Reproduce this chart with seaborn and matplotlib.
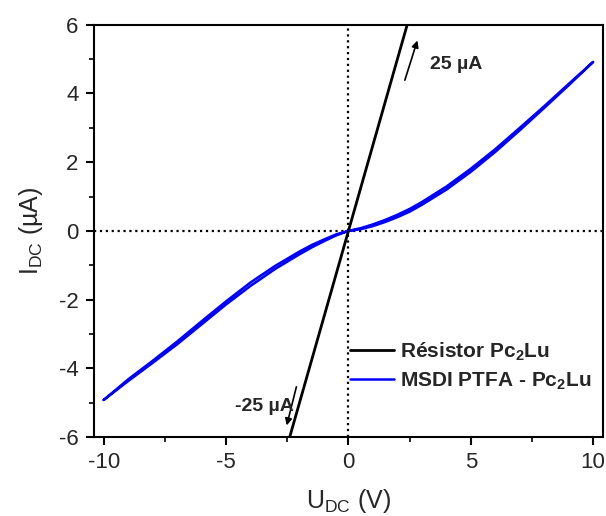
import numpy as np
import pandas as pd
import matplotlib
matplotlib.use('Agg')
import matplotlib.pyplot as plt
import seaborn as sns
from matplotlib.ticker import MultipleLocator

# ── DATA ─────────────────────────────────────────────
# Résistor: linear, 25 µA at 10 V
res_u = [-10, 10]
res_i = [-25, 25]

# MSDI PTFA - Pc2Lu, sweep up then back down
sweep_u = [-10, -9, -8, -7, -6, -5, -4, -3, -2, -1.5, -1, -0.5, 0,
           0.5, 1, 1.5, 2, 2.5, 3, 4, 5, 6, 7, 8, 9, 10]
up_i = [-4.92, -4.37, -3.84, -3.30, -2.72, -2.14, -1.60, -1.11, -0.68,
        -0.48, -0.30, -0.13, 0.00, 0.05, 0.14, 0.26, 0.40, 0.56, 0.76,
        1.20, 1.72, 2.30, 2.93, 3.58, 4.24, 4.92]
down_i = [-4.92, -4.32, -3.78, -3.22, -2.63, -2.05, -1.50, -1.02, -0.60,
          -0.41, -0.25, -0.10, 0.00, 0.08, 0.19, 0.32, 0.47, 0.64, 0.84,
          1.29, 1.81, 2.38, 3.00, 3.63, 4.28, 4.92]

sns.set_style("ticks")
plt.rcParams['font.family'] = ['Liberation Sans', 'DejaVu Sans']
plt.rcParams['mathtext.fontset'] = 'custom'
plt.rcParams['mathtext.rm'] = 'Liberation Sans'
plt.rcParams['mathtext.bf'] = 'Liberation Sans:bold'
plt.rcParams['axes.unicode_minus'] = False

fig = plt.figure(figsize=(6.06, 5.16), dpi=100)
ax = fig.add_axes([0.155, 0.153, 0.84, 0.799])

# zero lines
ax.axhline(0, color='black', ls=':', lw=1.6, zorder=1)
ax.axvline(0, color='black', ls=':', lw=1.6, zorder=1)

sns.lineplot(x=res_u, y=res_i, color='black', lw=2, ax=ax,
             label=r'Résistor Pc$_\mathbf{2}$Lu', zorder=3)

loop_u = sweep_u + sweep_u[::-1]
loop_i = up_i + down_i[::-1]
sns.lineplot(x=loop_u, y=loop_i, sort=False, estimator=None, color='#0000ff',
             lw=1.8, ax=ax, label=r'MSDI PTFA - Pc$_\mathbf{2}$Lu', zorder=2)

ax.set_xlim(-10.4, 10.4)
ax.set_ylim(-6, 6)
ax.xaxis.set_major_locator(MultipleLocator(5))
ax.xaxis.set_minor_locator(MultipleLocator(2.5))
ax.yaxis.set_major_locator(MultipleLocator(2))
ax.yaxis.set_minor_locator(MultipleLocator(1))
ax.tick_params(which='major', direction='out', length=6, width=1.5,
               labelsize=16, color='black', pad=5)
ax.tick_params(which='minor', direction='out', length=3.5, width=1.2,
               color='black')
for s in ax.spines.values():
    s.set_linewidth(1.5)
    s.set_color('black')

ax.set_xlabel(r'U$_{\mathrm{DC}}$ (V)', fontsize=18, labelpad=10)
ax.set_ylabel(r'I$_{\mathrm{DC}}$ (µA)', fontsize=18, labelpad=10)

# arrows and labels
ax.annotate('', xy=(2.85, 5.62), xytext=(2.27, 4.31),
            arrowprops=dict(arrowstyle='-|>', color='black', lw=1.2,
                            mutation_scale=10))
ax.text(4.4, 4.84, '25 µA', fontsize=14, fontweight='bold',
        ha='center', va='center')
ax.annotate('', xy=(-2.55, -5.74), xytext=(-2.1, -4.46),
            arrowprops=dict(arrowstyle='-|>', color='black', lw=1.2,
                            mutation_scale=10))
ax.text(-3.45, -5.1, '-25 µA', fontsize=14, fontweight='bold',
        ha='center', va='center')

leg = ax.legend(loc='lower right', frameon=False, fontsize=15,
                handlelength=2.1, handletextpad=0.3,
                bbox_to_anchor=(1.015, 0.065), labelspacing=0.35)
for t in leg.get_texts():
    t.set_fontweight('bold')

fig.savefig('out.png', dpi=100)
